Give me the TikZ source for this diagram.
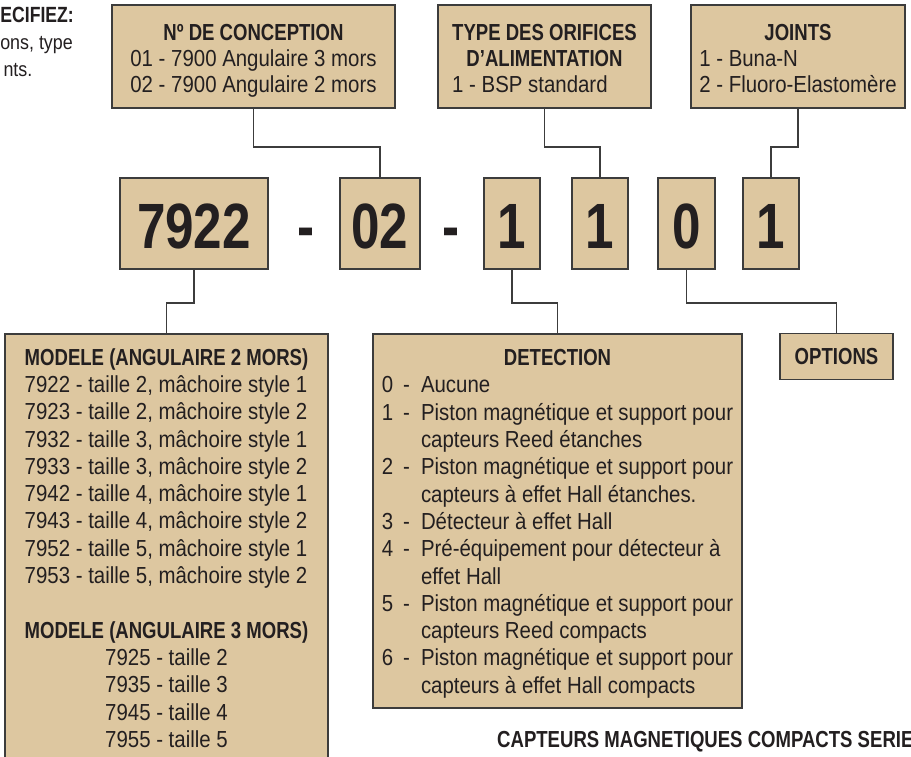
\documentclass[tikz,border=0pt]{standalone}
\usepackage{fontspec}
\setmainfont{Liberation Sans}[FakeStretch=0.88,BoldFeatures={FakeStretch=0.80}]
\definecolor{boxtan}{RGB}{221,199,160}
\definecolor{ink}{RGB}{35,31,32}
\definecolor{edge}{RGB}{60,60,60}
\newcommand{\mylower}[2]{\raisebox{-#1}[\height][\depth]{#2}}
\begin{document}
\begin{tikzpicture}[x=1pt,y=-1pt,
  box/.style={draw=edge, line width=1.4pt, fill=boxtan, inner sep=0pt, text=ink},
  link/.style={draw=edge, line width=1.1pt},
  body/.style={font=\fontsize{23.2}{27.3}\selectfont},
  topbody/.style={font=\fontsize{23.2}{26}\selectfont},
  big/.style={font=\fontsize{64}{64}\selectfont\bfseries, text=ink, inner sep=0pt},
  frag/.style={text=ink, inner sep=0pt}]
\useasboundingbox (0,0) rectangle (911,757);
\clip (0,0) rectangle (911,757);
\fill[white] (0,0) rectangle (911,757);

% top-left cut text
\node[frag, font=\fontsize{22}{27}\selectfont\bfseries, anchor=base east] (tl1) at (74,23) {ECIFIEZ:};
\node[frag, font=\fontsize{20.3}{27}\selectfont, anchor=base east] (tl2) at (73,50) {ons, type};
\node[frag, font=\fontsize{20.3}{27}\selectfont, anchor=base east] (tl3) at (32.5,77) {nts.};

% top boxes
\node[box, topbody, minimum width=283pt, minimum height=103pt] (A) at (253.5,56.5)
  {\mylower{4.5pt}{\begin{tabular}{@{}l@{}}
   \multicolumn{1}{@{}c@{}}{\textbf{Nº DE CONCEPTION}}\\
   01 - 7900 Angulaire 3 mors\\
   02 - 7900 Angulaire 2 mors
   \end{tabular}}};
\node[box, topbody, minimum width=213pt, minimum height=103pt] (B) at (544.5,56.5)
  {\mylower{4.5pt}{\begin{tabular}{@{}l@{}}
   \multicolumn{1}{@{}c@{}}{\textbf{TYPE DES ORIFICES}}\\
   \multicolumn{1}{@{}c@{}}{\textbf{D’ALIMENTATION}}\\
   1 - BSP standard
   \end{tabular}}};
\node[box, topbody, minimum width=214pt, minimum height=103pt] (C) at (798,56.5)
  {\mylower{4.5pt}{\begin{tabular}{@{}l@{}}
   \multicolumn{1}{@{}c@{}}{\textbf{JOINTS}}\\
   1 - Buna-N\\
   2 - Fluoro-Elastomère
   \end{tabular}}};

% code row
\node[box, big, minimum width=148pt, minimum height=91pt] (c1) at (194,223.5) {\mylower{2.5pt}{7922}};
\node[big, anchor=base] (d1) at (306.5,248) {-};
\node[box, big, minimum width=80pt, minimum height=91pt] (c2) at (380,223.5) {\mylower{2.5pt}{02}};
\node[big, anchor=base] (d2) at (451,248) {-};
\node[box, big, minimum width=56pt, minimum height=91pt] (c3) at (512,223.5) {\mylower{2.5pt}{1}};
\node[box, big, minimum width=56pt, minimum height=91pt] (c4) at (600,223.5) {\mylower{2.5pt}{1}};
\node[box, big, minimum width=57pt, minimum height=91pt] (c5) at (686.5,223.5) {\mylower{2.5pt}{0}};
\node[box, big, minimum width=56pt, minimum height=91pt] (c6) at (771,223.5) {\mylower{2.5pt}{1}};

% bottom boxes
\node[box, body, minimum width=323pt, minimum height=428pt] (M) at (166.5,548)
  {\mylower{2.8pt}{\begin{tabular}{@{}l@{}}
   \multicolumn{1}{@{}c@{}}{\textbf{MODELE (ANGULAIRE 2 MORS)}}\\
   7922 - taille 2, mâchoire style 1\\
   7923 - taille 2, mâchoire style 2\\
   7932 - taille 3, mâchoire style 1\\
   7933 - taille 3, mâchoire style 2\\
   7942 - taille 4, mâchoire style 1\\
   7943 - taille 4, mâchoire style 2\\
   7952 - taille 5, mâchoire style 1\\
   7953 - taille 5, mâchoire style 2\\
   \\
   \multicolumn{1}{@{}c@{}}{\textbf{MODELE (ANGULAIRE 3 MORS)}}\\
   \multicolumn{1}{@{}c@{}}{7925 - taille 2}\\
   \multicolumn{1}{@{}c@{}}{7935 - taille 3}\\
   \multicolumn{1}{@{}c@{}}{7945 - taille 4}\\
   \multicolumn{1}{@{}c@{}}{7955 - taille 5}
   \end{tabular}}};
\node[box, body, minimum width=369pt, minimum height=374pt] (D) at (557.5,521)
  {\mylower{3pt}{\begin{tabular}{@{}l@{\hspace{10pt}}l@{\hspace{11pt}}l@{}}
   \multicolumn{3}{@{}c@{}}{\textbf{DETECTION}}\\
   0 & - & Aucune\\
   1 & - & Piston magnétique et support pour\\
     &   & capteurs Reed étanches\\
   2 & - & Piston magnétique et support pour\\
     &   & capteurs à effet Hall étanches.\\
   3 & - & Détecteur à effet Hall\\
   4 & - & Pré-équipement pour détecteur à\\
     &   & effet Hall\\
   5 & - & Piston magnétique et support pour\\
     &   & capteurs Reed compacts\\
   6 & - & Piston magnétique et support pour\\
     &   & capteurs à effet Hall compacts
   \end{tabular}}};
\node[box, body, minimum width=113pt, minimum height=46pt] (O) at (836.5,356.5) {\textbf{OPTIONS}};

% connectors
\coordinate (ht) at (0,147);
\coordinate (hb) at (0,303);
\draw[link] (A.south) |- (c2 |- ht) -- (c2.north);
\draw[link] (B.south) |- (c4 |- ht) -- (c4.north);
\draw[link] (C.south) |- (c6 |- ht) -- (c6.north);
\draw[link] (c1.south) |- (M |- hb) -- (M.north);
\draw[link] (c3.south) |- (D |- hb) -- (D.north);
\draw[link] (c5.south) |- (O |- hb) -- (O.north);

% bottom cut text
\node[frag, font=\fontsize{23.2}{27}\selectfont\bfseries, anchor=base west] (bt) at (497,747) {CAPTEURS MAGNETIQUES COMPACTS SERIE};
\end{tikzpicture}
\end{document}
